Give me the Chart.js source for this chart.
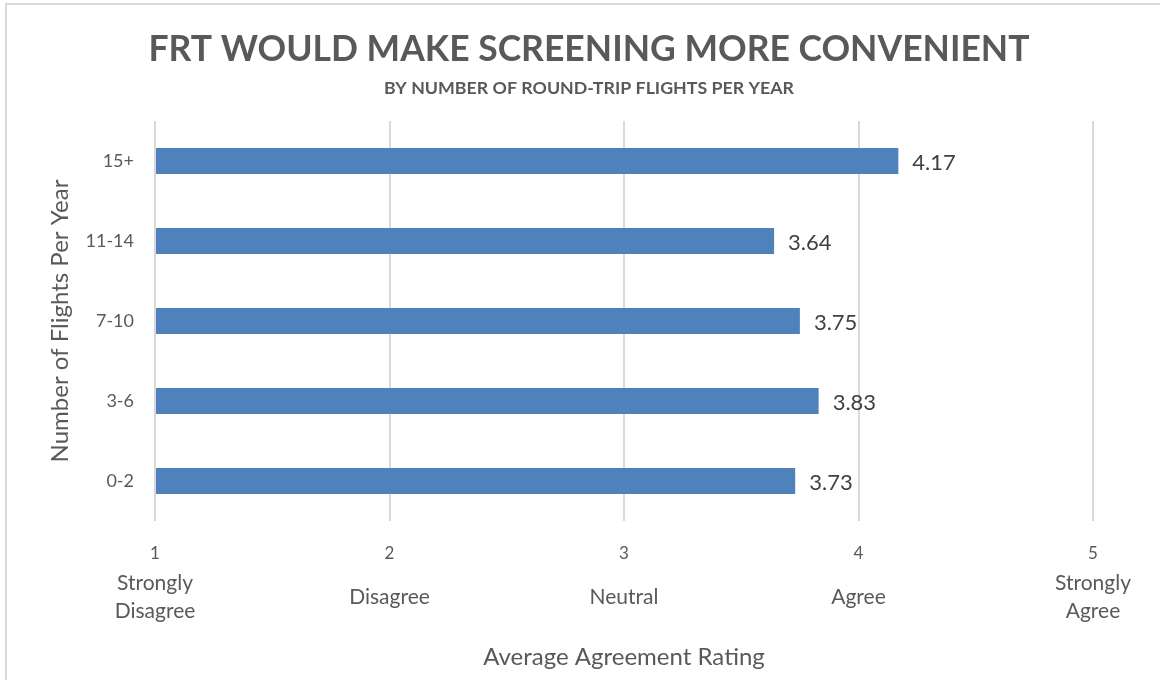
<!DOCTYPE html>
<html>
<head>
<meta charset="utf-8">
<script src="https://cdn.jsdelivr.net/npm/chart.js@4/dist/chart.umd.min.js"></script>
<style>
  html, body { margin: 0; padding: 0; background: #ffffff; }
  #wrap { position: relative; width: 1160px; height: 680px; overflow: hidden; }
  #frame { position: absolute; left: 5px; top: 3px; width: 1200px; height: 800px;
           border-top: 2px solid #d9d9d9; border-left: 2px solid #d9d9d9; pointer-events: none; }
  canvas { position: absolute; left: 0; top: 0; }
</style>
</head>
<body>
<div id="wrap">
  <canvas id="c" width="1160" height="680"></canvas>
  <div id="frame"></div>
</div>
<script>
const titleText = 'FRT WOULD MAKE SCREENING MORE CONVENIENT';
const subtitleText = 'BY NUMBER OF ROUND-TRIP FLIGHTS PER YEAR';
const categories = ['15+', '11-14', '7-10', '3-6', '0-2'];
const ratings = [4.17, 3.64, 3.75, 3.83, 3.73];
const tickValues = [1, 2, 3, 4, 5];
const tickNames = [['Strongly', '', 'Disagree'], ['', 'Disagree', ''], ['', 'Neutral', ''], ['', 'Agree', ''], ['Strongly', '', 'Agree']];
const xTitle = 'Average Agreement Rating';
const yTitle = 'Number of Flights Per Year';

const FONT = 'Lato, "Open Sans", sans-serif';
const GREY = '#595959';

const headings = {
  id: 'headings',
  afterDraw(chart) {
    const ctx = chart.ctx;
    ctx.save();
    ctx.fillStyle = GREY;
    ctx.textAlign = 'center';
    ctx.textBaseline = 'middle';
    ctx.font = 'bold 35.5px ' + FONT;
    ctx.fillText(titleText, 589, 50);
    ctx.font = 'bold 17.8px ' + FONT;
    ctx.fillText(subtitleText, 589, 88);
    ctx.restore();
  }
};

const valueLabels = {
  id: 'valueLabels',
  afterDatasetsDraw(chart) {
    const ctx = chart.ctx;
    const meta = chart.getDatasetMeta(0);
    ctx.save();
    ctx.font = '22px ' + FONT;
    ctx.fillStyle = '#404040';
    ctx.textAlign = 'left';
    ctx.textBaseline = 'middle';
    meta.data.forEach((bar, i) => {
      ctx.fillText(ratings[i].toFixed(2), bar.x + 14, bar.y + 2);
    });
    ctx.restore();
  }
};

new Chart(document.getElementById('c'), {
  type: 'bar',
  data: {
    labels: categories,
    datasets: [{
      data: ratings,
      base: 1,
      backgroundColor: '#4f81bd',
      borderWidth: 0,
      categoryPercentage: 0.65,
      barPercentage: 0.5
    }]
  },
  options: {
    indexAxis: 'y',
    responsive: false,
    animation: false,
    devicePixelRatio: 1,
    layout: { padding: { left: 0, right: 67, top: 121, bottom: 0 } },
    plugins: {
      legend: { display: false },
      tooltip: { enabled: false },
      title: { display: false },
      subtitle: { display: false }
    },
    scales: {
      x: {
        type: 'linear',
        position: 'bottom',
        weight: 0,
        min: 1,
        max: 5,
        afterBuildTicks(scale) { scale.ticks = tickValues.map(v => ({ value: v })); },
        grid: { color: '#d9d9d9', lineWidth: 2, drawTicks: false },
        border: { display: false },
        ticks: {
          color: GREY,
          font: { family: FONT, size: 17 },
          padding: 22,
          maxRotation: 0,
          callback: v => String(v)
        },
        afterFit(scale) { scale.height = 40; }
      },
      x2: {
        type: 'linear',
        position: 'bottom',
        weight: 1,
        min: 1,
        max: 5,
        afterBuildTicks(scale) { scale.ticks = tickValues.map(v => ({ value: v })); },
        grid: { display: false, drawTicks: false },
        border: { display: false },
        ticks: {
          color: GREY,
          font: { family: FONT, size: 21, lineHeight: 0.667 },
          padding: 15,
          maxRotation: 0,
          autoSkip: false,
          callback: (v) => tickNames[tickValues.indexOf(v)]
        },
        title: {
          display: true,
          text: xTitle,
          color: GREY,
          font: { family: FONT, size: 24 },
          padding: { top: 22, bottom: 8.6 }
        },
        afterFit(scale) { scale.height = 119; }
      },
      y: {
        grid: { display: false, drawTicks: false },
        border: { display: false },
        ticks: {
          color: GREY,
          font: { family: FONT, size: 18 },
          padding: 21
        },
        title: {
          display: true,
          text: yTitle,
          color: GREY,
          font: { family: FONT, size: 24 },
          padding: { top: 45.6, bottom: 0 }
        },
        afterFit(scale) { scale.width = 155; }
      }
    }
  },
  plugins: [valueLabels, headings]
});
</script>
</body>
</html>
